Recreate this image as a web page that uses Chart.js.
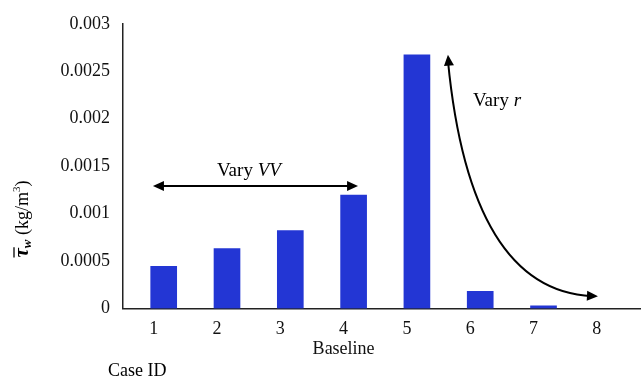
<!DOCTYPE html>
<html>
<head>
<meta charset="utf-8">
<script src="https://cdn.jsdelivr.net/npm/chart.js@4.4.1/dist/chart.umd.min.js"></script>
<style>
  html, body { margin: 0; padding: 0; background: #fff; }
</style>
</head>
<body>
<canvas id="chart" width="643" height="380"></canvas>
<script>
// Data
const caseIds = [1, 2, 3, 4, 5, 6, 7, 8];
const caseLabels = [["1"], ["2"], ["3"], ["4", "Baseline"], ["5"], ["6"], ["7"], ["8"]];
const tauValues = [0.000444, 0.000631, 0.000822, 0.001196, 0.002673, 0.000182, 0.000029, null];
const yTickValues = [0, 0.0005, 0.001, 0.0015, 0.002, 0.0025, 0.003];
const yTickLabels = ["0", "0.0005", "0.001", "0.0015", "0.002", "0.0025", "0.003"];

// Style
const SERIF = "'Liberation Serif', 'Times New Roman', serif";
const BAR_COLOR = "#2336d4";
const AXIS_COLOR = "#222";

// Draws a filled arrow head with its tip at x, y
const drawArrowHead = (ctx, x, y, angle) => {
  ctx.save();
  ctx.translate(x, y);
  ctx.rotate(angle);
  ctx.beginPath();
  ctx.moveTo(0, 0);
  ctx.lineTo(-11, -5);
  ctx.lineTo(-11, 5);
  ctx.closePath();
  ctx.fill();
  ctx.restore();
}

// Annotations: arrows, labels, y title, "Case ID"
const annotations = {
  id: "annotations",
  afterDatasetsDraw(chart) {
    const ctx = chart.ctx;
    const xs = chart.scales.x;
    const ys = chart.scales.y;
    ctx.save();
    ctx.fillStyle = "#000";
    ctx.strokeStyle = "#000";
    ctx.lineWidth = 2;

    // Vary VV arrow
    const ax1 = xs.getPixelForValue(0.83);
    const ax2 = xs.getPixelForValue(4.07);
    const ay = ys.getPixelForValue(0.001292);
    ctx.beginPath();
    ctx.moveTo(ax1 + 8, ay);
    ctx.lineTo(ax2 - 8, ay);
    ctx.stroke();
    drawArrowHead(ctx, ax1, ay, Math.PI);
    drawArrowHead(ctx, ax2, ay, 0);

    ctx.font = "19px " + SERIF;
    ctx.textBaseline = "middle";
    ctx.textAlign = "left";
    let tx = 217;
    ctx.fillText("Vary ", tx, 171);
    tx += ctx.measureText("Vary ").width;
    ctx.font = "italic 19px " + SERIF;
    ctx.fillText("VV", tx, 171);

    // Vary r curved arrow
    const p0 = { x: xs.getPixelForValue(5.49), y: ys.getPixelForValue(0.002675) };
    const c = { x: xs.getPixelForValue(5.84), y: ys.getPixelForValue(0.000192) };
    const p2 = { x: xs.getPixelForValue(7.86), y: ys.getPixelForValue(0.00013) };
    ctx.beginPath();
    ctx.moveTo(p0.x, p0.y + 6);
    ctx.quadraticCurveTo(c.x, c.y, p2.x - 6, p2.y);
    ctx.stroke();
    drawArrowHead(ctx, p0.x, p0.y, Math.atan2(p0.y - c.y, p0.x - c.x));
    drawArrowHead(ctx, p2.x, p2.y, Math.atan2(p2.y - c.y, p2.x - c.x));

    ctx.font = "19px " + SERIF;
    tx = 473;
    ctx.fillText("Vary ", tx, 101);
    tx += ctx.measureText("Vary ").width;
    ctx.font = "italic 19px " + SERIF;
    ctx.fillText("r", tx, 101);

    // Case ID
    ctx.font = "18px " + SERIF;
    ctx.fillText("Case ID", 108, 371);

    // Y axis title, rotated
    const parts = [
      { text: "\u03c4", font: "italic bold 21px " + SERIF, dy: 0, bar: true },
      { text: "w", font: "italic bold 13px " + SERIF, dy: 5 },
      { text: " (kg/m", font: "18px " + SERIF, dy: 0 },
      { text: "3", font: "11px " + SERIF, dy: -6 },
      { text: ")", font: "18px " + SERIF, dy: 0 }
    ];
    let total = 0;
    parts.forEach((p) => {
      ctx.font = p.font;
      p.w = ctx.measureText(p.text).width;
      total += p.w;
    });
    ctx.translate(23, 219);
    ctx.rotate(-Math.PI / 2);
    let px = -total / 2;
    parts.forEach((p) => {
      ctx.font = p.font;
      ctx.fillText(p.text, px, p.dy);
      if (p.bar) {
        ctx.lineWidth = 1.3;
        ctx.beginPath();
        ctx.moveTo(px, -9);
        ctx.lineTo(px + p.w + 1, -9);
        ctx.stroke();
      }
      px += p.w;
    });
    ctx.restore();
  }
};

const chart = new Chart(document.getElementById("chart"), {
  type: "bar",
  data: {
    datasets: [{
      data: caseIds.map((id, i) => ({ x: id, y: tauValues[i] })),
      backgroundColor: BAR_COLOR,
      barThickness: 26
    }]
  },
  options: {
    responsive: false,
    animation: false,
    layout: { padding: { top: 19, right: 3, left: 0, bottom: 0 } },
    plugins: { legend: { display: false }, tooltip: { enabled: false } },
    scales: {
      x: {
        type: "linear",
        offset: false,
        min: 0.357,
        max: 8.524,
        afterBuildTicks: (scale) => {
          scale.ticks = caseIds.map((v) => ({ value: v }));
        },
        afterFit: (scale) => { scale.height = 71.5; },
        grid: { display: false, drawTicks: false, offset: false },
        border: { display: true, color: AXIS_COLOR, width: 1.5 },
        ticks: {
          autoSkip: false,
          maxRotation: 0,
          padding: 11,
          labelOffset: -10,
          color: "#111",
          font: { family: SERIF, size: 18, lineHeight: 1.1 },
          callback: (value) => caseLabels[caseIds.indexOf(value)]
        }
      },
      y: {
        min: 0,
        max: 0.003,
        afterBuildTicks: (scale) => {
          scale.ticks = yTickValues.map((v) => ({ value: v }));
        },
        afterFit: (scale) => { scale.width = 123; },
        grid: { display: false, drawTicks: false },
        border: { display: true, color: AXIS_COLOR, width: 1.5 },
        ticks: {
          padding: 13,
          color: "#111",
          font: { family: SERIF, size: 18 },
          callback: (value) => yTickLabels[yTickValues.indexOf(value)]
        }
      }
    }
  },
  plugins: [annotations]
});
</script>
</body>
</html>
